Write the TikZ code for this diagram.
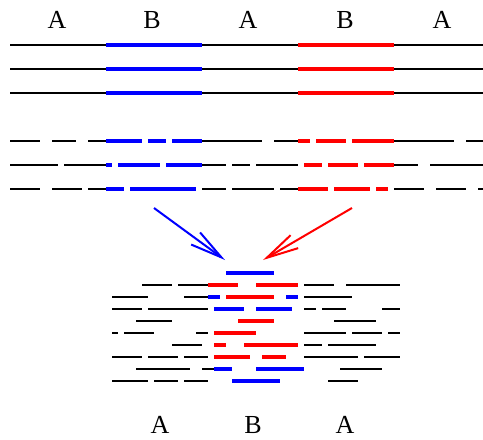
\documentclass[tikz,border=0pt]{standalone}
\usepackage{fontspec}
\setmainfont{Liberation Serif}
\usetikzlibrary{arrows.meta}

\tikzset{
  blk/.style={black, line width=2pt, line cap=butt},
  bseg/.style={blue, line width=4pt, line cap=butt},
  rseg/.style={red, line width=4pt, line cap=butt},
  lbl/.style={font=\fontsize{26}{26}\selectfont, inner sep=0pt, anchor=center},
  mixarrow/.style={line width=2pt, -{Straight Barb[length=32pt, width=15pt, line width=2pt]}},
}

% draw a list of horizontal segments a-b at height y with a given style
\newcommand\segrow[3]{%
  \foreach \a/\b in {#3} {\draw[#1] (\a,#2) -- (\b,#2);}%
}

\begin{document}
\begin{tikzpicture}[x=1pt,y=-1pt]
\useasboundingbox (0,0) rectangle (483,440);

% region labels above the chromosomes
\node[lbl] (a1) at (57,20) {A};
\node[lbl] (b1) at (152,20) {B};
\node[lbl] (a2) at (248,20) {A};
\node[lbl] (b2) at (345,20) {B};
\node[lbl] (a3) at (442,20) {A};

% intact chromosomes
\foreach \y in {45,69,93} {
  \segrow{blk}{\y}{10/106,202/298,394/483}
  \segrow{bseg}{\y}{106/202}
  \segrow{rseg}{\y}{298/394}
}

% fragmented chromosomes
\segrow{blk}{141}{10/40,52/76,88/106,202/262,274/298,394/454,466/483}
\segrow{bseg}{141}{106/142,148/166,172/202}
\segrow{rseg}{141}{298/310,316/346,352/394}

\segrow{blk}{165}{10/58,64/106,202/226,232/250,256/298,394/418,430/483}
\segrow{bseg}{165}{106/112,118/160,166/202}
\segrow{rseg}{165}{304/322,328/358,364/394}

\segrow{blk}{189}{10/40,52/82,88/106,202/226,232/274,280/298,394/424,436/466,478/483}
\segrow{bseg}{189}{106/124,130/196}
\segrow{rseg}{189}{298/328,334/370,376/388}

% arrows into the mixed pool
\coordinate (bs) at (154,208);
\coordinate (bt) at (225,260);
\coordinate (rs) at (352,208);
\coordinate (rt) at (263,260);
\draw[mixarrow, blue] (bs) -- (bt);
\draw[mixarrow, red] (rs) -- (rt);

% pooled fragments
\segrow{bseg}{273}{226/274}

\segrow{blk}{285}{142/172,178/208,304/334,346/400}
\segrow{rseg}{285}{208/238,256/298}

\segrow{blk}{297}{112/148,184/208,304/352}
\segrow{bseg}{297}{208/220,286/298}
\segrow{rseg}{297}{226/274}

\segrow{blk}{309}{112/142,148/208,304/316,322/346,382/400}
\segrow{bseg}{309}{214/244,256/292}

\segrow{blk}{321}{136/172,334/376}
\segrow{rseg}{321}{238/274}

\segrow{blk}{333}{112/118,124/154,196/208,304/346,352/382,388/400}
\segrow{rseg}{333}{214/256}

\segrow{blk}{345}{172/202,304/322,328/376}
\segrow{rseg}{345}{214/226,244/298}

\segrow{blk}{357}{112/142,148/178,184/208,304/358,364/400}
\segrow{rseg}{357}{214/250,262/286}

\segrow{blk}{369}{136/190,202/214,340/382}
\segrow{bseg}{369}{214/232,256/304}

\segrow{blk}{381}{112/148,154/178,184/208,328/358}
\segrow{bseg}{381}{232/280}

% region labels below the pool
\node[lbl] (a4) at (160,425) {A};
\node[lbl] (b3) at (253,425) {B};
\node[lbl] (a5) at (345,425) {A};
\end{tikzpicture}
\end{document}
